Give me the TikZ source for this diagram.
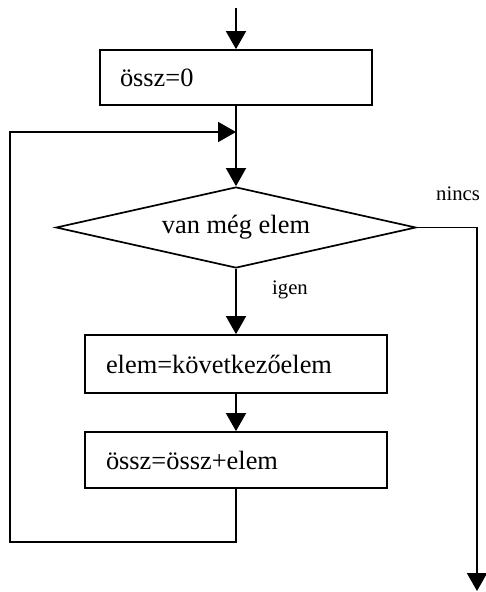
\documentclass[tikz,border=0pt]{standalone}
\usepackage{fontspec}
\setmainfont{Liberation Serif}
\usetikzlibrary{shapes.geometric,arrows.meta}
\begin{document}
\begin{tikzpicture}[x=1pt,y=-1pt,
  line width=1.7pt,
  flow/.style={-{Triangle[width=20pt,length=18pt]}},
  boxa/.style={draw,rectangle,inner ysep=0pt,align=left,font=\fontsize{26.4}{30}\selectfont},
  cond/.style={draw,diamond,inner sep=0pt,aspect=4.44,minimum width=360pt,minimum height=81pt,font=\fontsize{26.4}{30}\selectfont},
  lbl/.style={font=\fontsize{20.7}{24}\selectfont,inner sep=0pt}]
\useasboundingbox (0,0) rectangle (486,592);
\node[boxa,minimum width=272pt,minimum height=55pt,text width=232pt,inner xsep=20pt] (b1) at (236,77.5) {össz=0};
\node[cond] (d) at (236,227.5) {van még elem};
\node[boxa,minimum width=302pt,minimum height=58pt,text width=260pt,inner xsep=21pt] (b2) at (236,364) {elem=következőelem};
\node[boxa,minimum width=302pt,minimum height=56pt,text width=260pt,inner xsep=21pt] (b3) at (236,460) {össz=össz+elem};
\coordinate (start) at (236,8);
\coordinate (join) at (236,132);
\coordinate (bl) at (236,542);
\coordinate (lb) at (10,542);
\coordinate (lt) at (10,132);
\coordinate (rt) at (477,227.5);
\coordinate (rend) at (477,591);
\node[lbl] (nincs) at (458,194) {nincs};
\node[lbl] (igen) at (290,290) {igen};
\draw[flow] (start) -- (b1.north);
\draw[flow] (b1.south) -- (d.north);
\draw[flow] (b3.south) -- (bl) -- (lb) -- (lt) -- (join);
\draw[flow] (d.south) -- (b2.north);
\draw[flow] (b2.south) -- (b3.north);
\draw[flow] (d.east) -- (rt) -- (rend);
\end{tikzpicture}
\end{document}
